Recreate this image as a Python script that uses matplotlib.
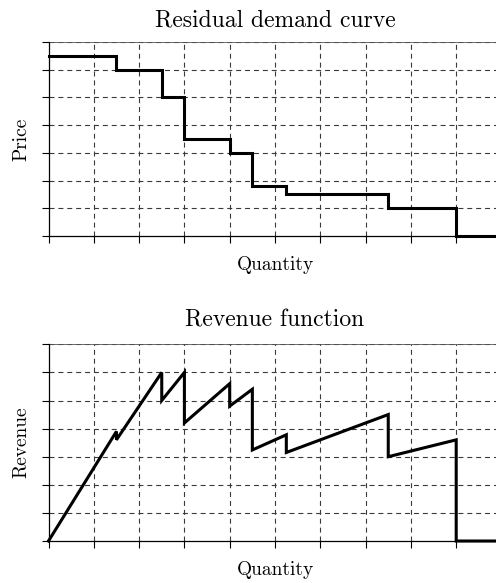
import matplotlib
matplotlib.use("Agg")
import matplotlib.pyplot as plt
import numpy as np

# Residual demand: price offered on each quantity block
quantity_breaks = [0.0, 1.5, 2.5, 3.0, 4.0, 4.5, 5.25, 7.5, 9.0, 10.0]
block_prices = [6.5, 6.0, 5.0, 3.5, 3.0, 1.8, 1.5, 1.0, 0.0]

x_grid = np.arange(0, 11, 1)
price_grid = np.arange(0, 8, 1)
revenue_grid = np.arange(0, 17.6, 2.5)

plt.rcParams["font.family"] = ["cmr10", "DejaVu Serif"]
plt.rcParams["axes.formatter.use_mathtext"] = True

fig = plt.figure(figsize=(4.96, 5.83), dpi=100)

W, H = 496.0, 583.0
left = 48.5 / W
width = 453.0 / W
ax1 = fig.add_axes([left, 1 - 236 / H, width, (236 - 42) / H])
ax2 = fig.add_axes([left, 1 - 541 / H, width, (541 - 344.3) / H])

# Step curve of price vs quantity
step_x = []
step_y = []
for i, p in enumerate(block_prices):
    step_x += [quantity_breaks[i], quantity_breaks[i + 1]]
    step_y += [p, p]

# Revenue = price * quantity along each block, dropping at each break
rev_x = []
rev_y = []
for i, p in enumerate(block_prices):
    q0, q1 = quantity_breaks[i], quantity_breaks[i + 1]
    rev_x += [q0, q1]
    rev_y += [p * q0, p * q1]

grid_kw = dict(color="#3a3a3a", linewidth=0.8, dashes=(4.5, 3.5))


def style(ax, yticks, title, ylabel, title_pad):
    ax.set_xlim(0, 10)
    ax.set_ylim(yticks[0], yticks[-1])
    ax.set_xticks(x_grid)
    ax.set_yticks(yticks)
    ax.set_xticklabels([])
    ax.set_yticklabels([])
    for xv in x_grid[1:]:
        ax.axvline(xv, zorder=1, **grid_kw)
    for yv in yticks[1:]:
        ax.axhline(yv, zorder=1, **grid_kw)
    ax.tick_params(direction="out", length=5, width=0.8, color="black")
    ax.spines["right"].set_visible(False)
    ax.spines["top"].set_color("#555555")
    ax.spines["top"].set_linewidth(0.6)
    for s in ("left", "bottom"):
        ax.spines[s].set_linewidth(0.9)
        ax.spines[s].set_zorder(3)
    ax.set_title(title, fontsize=17, pad=title_pad)
    ax.set_xlabel("Quantity", fontsize=14, labelpad=6)
    ax.set_ylabel(ylabel, fontsize=14, labelpad=4.5)


ax1.plot(step_x, step_y, color="black", linewidth=2.2, solid_joinstyle="miter",
         zorder=4, clip_on=False)
style(ax1, price_grid, "Residual demand curve", "Price", 11)

ax2.plot(rev_x, rev_y, color="black", linewidth=2.2, solid_joinstyle="miter",
         zorder=4, clip_on=False)
style(ax2, revenue_grid, "Revenue function", "Revenue", 13)

fig.savefig("out.png", dpi=100)
